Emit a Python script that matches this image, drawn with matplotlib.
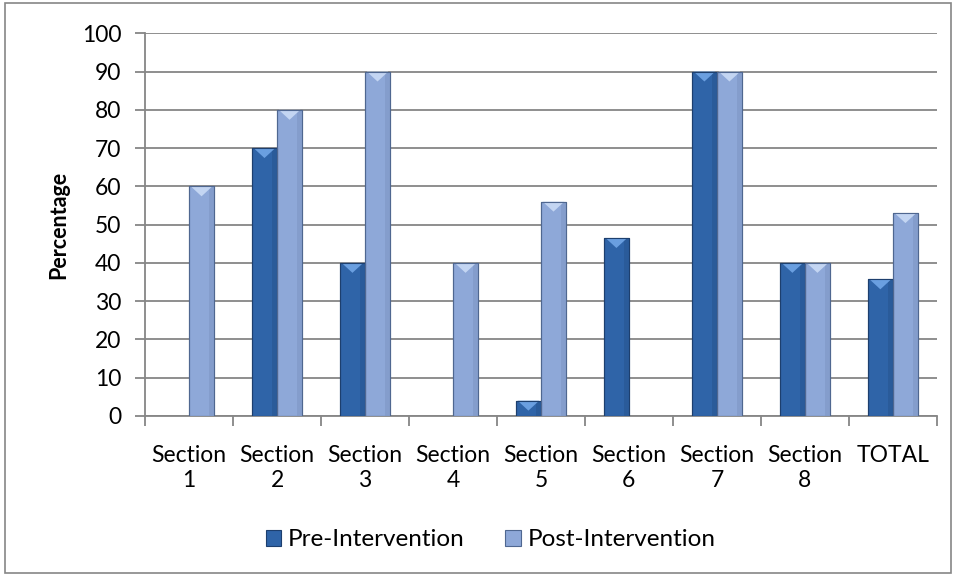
import numpy as np
import matplotlib
matplotlib.use("Agg")
from matplotlib import pyplot as plt
from matplotlib.patches import Rectangle, Polygon

plt.rcParams["font.family"] = ["Lato", "DejaVu Sans"]

# データ
categories = ["Section\n1", "Section\n2", "Section\n3", "Section\n4", "Section\n5",
              "Section\n6", "Section\n7", "Section\n8", "TOTAL"]
pre = [0, 70, 40, 0, 4, 46.5, 90, 40, 35.7]
post = [60, 80, 90, 40, 56, 0, 90, 40, 53]
series_names = ["Pre-Intervention", "Post-Intervention"]

# 色（本体, 縁, 上面のハイライト, 右側の影）
styles = [
    dict(face="#2f64a8", edge="#1d3f6e", top="#6a9fe0", shade="#2a5b9a"),
    dict(face="#8ea8d8", edge="#4f6790", top="#c3d5f2", shade="#849dcc"),
]

fig = plt.figure(figsize=(9.56, 5.76), dpi=100)
ax = fig.add_axes([0.1517, 0.2778, 0.8283, 0.6644])

x = np.arange(len(categories))
w = 0.285


def bevel_bar(ax, xc, h, st):
    """上面が面取りされたような棒を描く。"""
    if h <= 0:
        return
    left = xc - w / 2
    ax.add_patch(Rectangle((left, 0), w, h, facecolor=st["face"],
                           edgecolor=st["edge"], lw=0.8, zorder=3))
    # 右側の影
    ax.add_patch(Rectangle((left + w * 0.8, 0), w * 0.2, h,
                           facecolor=st["shade"], edgecolor="none", zorder=3.1))
    # 上面のハイライト（下向きの三角）
    d = min(2.6, h)
    ax.add_patch(Polygon([(left + 0.02, h), (left + w - 0.02, h), (xc, h - d)],
                         closed=True, facecolor=st["top"], edgecolor="none",
                         zorder=3.2))
    ax.add_patch(Rectangle((left, 0), w, h, facecolor="none",
                           edgecolor=st["edge"], lw=0.8, zorder=3.3))


for i in range(len(categories)):
    bevel_bar(ax, x[i] - w / 2, pre[i], styles[0])
    bevel_bar(ax, x[i] + w / 2, post[i], styles[1])

ax.set_xlim(-0.5, len(categories) - 0.5)
ax.set_ylim(0, 100)
ax.set_yticks(np.arange(0, 101, 10))
ax.set_xticks(np.arange(-0.5, len(categories), 1.0))
ax.set_xticklabels([])
ax.set_xticks(x, minor=True)
ax.set_xticklabels(categories, minor=True, fontsize=16.5, linespacing=1.2)
ax.tick_params(axis="x", which="minor", length=0, pad=21)
ax.tick_params(axis="x", which="major", length=7, width=1.3, color="#868686",
               direction="out")
ax.tick_params(axis="y", length=7, width=1.3, color="#868686", labelsize=16.5,
               pad=10)

ax.yaxis.grid(True, color="#868686", lw=1.3, zorder=0)
ax.set_axisbelow(True)
for s in ["top", "right"]:
    ax.spines[s].set_visible(False)
for s in ["left", "bottom"]:
    ax.spines[s].set_color("#868686")
    ax.spines[s].set_linewidth(1.3)

ax.set_ylabel("Percentage", fontsize=15.5, fontweight="bold", labelpad=9)

# 凡例
handles = [Rectangle((0, 0), 1, 1, facecolor=st["face"], edgecolor=st["edge"], lw=0.8)
           for st in styles]
fig.legend(handles, series_names, loc="center", bbox_to_anchor=(0.513, 0.063),
           ncol=2, frameon=False, fontsize=17.5, handlelength=0.65,
           handleheight=0.65, handletextpad=0.25, columnspacing=1.7)

# 外枠
fig.add_artist(Rectangle((0.005, 0.005), 0.99, 0.99, transform=fig.transFigure,
                         facecolor="none", edgecolor="#868686", lw=1.2))

fig.savefig("out.png", dpi=100)
